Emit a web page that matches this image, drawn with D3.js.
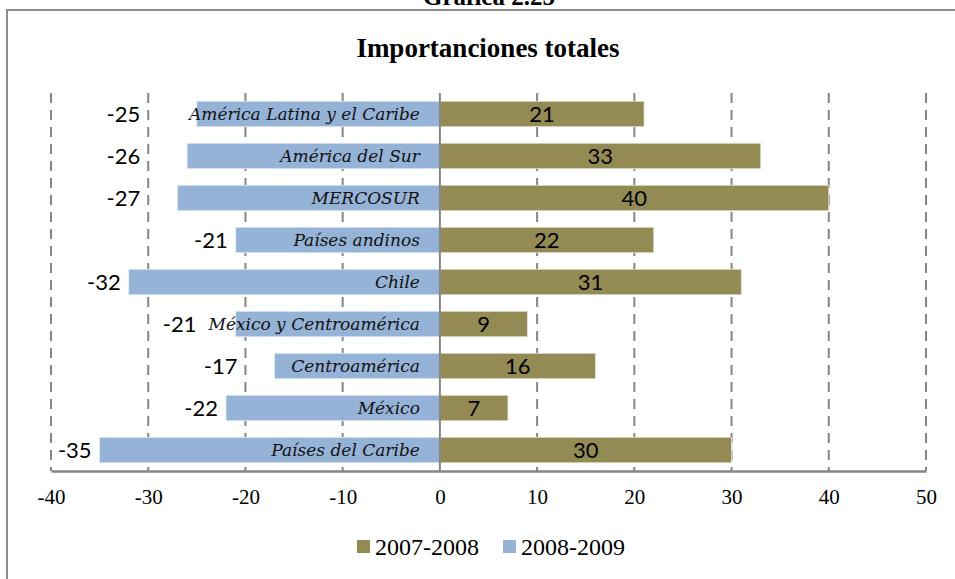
<!DOCTYPE html>
<html>
<head>
<meta charset="utf-8">
<script src="https://cdn.jsdelivr.net/npm/d3@7"></script>
<style>
  html, body { margin: 0; padding: 0; background: #fff; }
  svg { display: block; }
</style>
</head>
<body>
<svg id="chart" width="955" height="579"></svg>
<script>
// Import growth by region (%), two periods
const categories = [
  "América Latina y el Caribe",
  "América del Sur",
  "MERCOSUR",
  "Países andinos",
  "Chile",
  "México  y Centroamérica",
  "Centroamérica",
  "México",
  "Países del Caribe"
];
const series2007 = [21, 33, 40, 22, 31, 9, 16, 7, 30];
const series2009 = [-25, -26, -27, -21, -32, -21, -17, -22, -35];
const seriesNames = ["2007-2008", "2008-2009"];
const xTicks = [-40, -30, -20, -10, 0, 10, 20, 30, 40, 50];

const colOlive = "#948a54";
const colBlue = "#95b3d7";
const gridCol = "#868686";
const serif = "'Liberation Serif', 'Times New Roman', serif";

const svg = d3.select("#chart");

// outer frame
svg.append("rect")
  .attr("x", 7).attr("y", 10)
  .attr("width", 960).attr("height", 600)
  .attr("fill", "none").attr("stroke", "#8c8c8c").attr("stroke-width", 2);

// heading above the frame (partly cut by the page edge)
svg.append("text")
  .attr("x", 489).attr("y", 5)
  .attr("text-anchor", "middle")
  .attr("font-family", serif)
  .attr("font-weight", "bold").attr("font-size", 25)
  .text("Gráfica 2.25");

svg.append("text")
  .attr("x", 488).attr("y", 57)
  .attr("text-anchor", "middle")
  .attr("font-family", serif)
  .attr("font-weight", "bold").attr("font-size", 27)
  .text("Importanciones totales");

const x = d3.scaleLinear().domain([-40, 50]).range([51, 926]);
const y = d3.scaleBand().domain(categories).range([93, 471]).paddingInner(0.393).paddingOuter(0.196);

// dashed vertical gridlines
svg.append("g").selectAll("line")
  .data(xTicks.filter(d => d !== 0))
  .join("line")
  .attr("x1", d => x(d)).attr("x2", d => x(d))
  .attr("y1", 93).attr("y2", 471)
  .attr("stroke", gridCol).attr("stroke-width", 2)
  .attr("stroke-dasharray", "10,7");

const rows = categories.map((c, i) => ({ cat: c, pos: series2007[i], neg: series2009[i] }));

// positive bars (2007-2008)
svg.append("g").selectAll("rect")
  .data(rows).join("rect")
  .attr("x", x(0))
  .attr("y", d => y(d.cat))
  .attr("width", d => x(d.pos) - x(0))
  .attr("height", y.bandwidth())
  .attr("fill", colOlive)
  .attr("stroke", "#e6e4da").attr("stroke-width", 0.8);

// negative bars (2008-2009)
svg.append("g").selectAll("rect")
  .data(rows).join("rect")
  .attr("x", d => x(d.neg))
  .attr("y", d => y(d.cat))
  .attr("width", d => x(0) - x(d.neg))
  .attr("height", y.bandwidth())
  .attr("fill", colBlue)
  .attr("stroke", "#e4ebf4").attr("stroke-width", 0.8);

// zero line
svg.append("line")
  .attr("x1", x(0)).attr("x2", x(0))
  .attr("y1", 93).attr("y2", 471)
  .attr("stroke", gridCol).attr("stroke-width", 2);

// bottom axis
const axis = d3.axisBottom(x).tickValues(xTicks).tickSize(0).tickPadding(18)
  .tickFormat(d3.format("d"));
const gAxis = svg.append("g").attr("transform", "translate(0,471)").call(axis);
gAxis.select(".domain").attr("stroke", gridCol).attr("stroke-width", 2.5);
gAxis.selectAll("text")
  .attr("font-family", serif)
  .attr("font-size", 21).attr("fill", "#000")
  .text(d => d < 0 ? "-" + Math.abs(d) : d);

// category labels inside the negative bars
const catLabels = svg.append("g").selectAll("text")
  .data(rows).join("text")
  .attr("x", x(0) - 20)
  .attr("y", d => y(d.cat) + y.bandwidth() / 2)
  .attr("dy", "0.36em")
  .attr("text-anchor", "end")
  .attr("font-family", "'DejaVu Serif', serif")
  .attr("font-style", "italic")
  .attr("font-size", 17)
  .attr("fill", "#111")
  .text(d => d.cat);

const labelFont = "Lato, 'Open Sans', sans-serif";

// value labels for positive bars, centred
svg.append("g").selectAll("text")
  .data(rows).join("text")
  .attr("x", d => (x(0) + x(d.pos)) / 2)
  .attr("y", d => y(d.cat) + y.bandwidth() / 2)
  .attr("dy", "0.38em")
  .attr("text-anchor", "middle")
  .attr("font-family", labelFont).attr("font-size", 22)
  .attr("fill", "#000")
  .text(d => d.pos);

// value labels for negative bars: left of the bar (or of its category text),
// nudged further left so they never sit on a gridline
const textStart = [];
catLabels.each(function (d, i) { textStart[i] = (x(0) - 20) - this.getComputedTextLength(); });
const gridXs = xTicks.filter(d => d < 0).map(d => x(d));
svg.append("g").selectAll("text")
  .data(rows).join("text")
  .attr("y", d => y(d.cat) + y.bandwidth() / 2)
  .attr("dy", "0.38em")
  .attr("text-anchor", "end")
  .attr("font-family", labelFont).attr("font-size", 22)
  .attr("fill", "#000")
  .text(d => "-" + Math.abs(d.neg))
  .each(function (d, i) {
    const w = this.getComputedTextLength();
    let right = Math.min(x(d.neg) - 8, textStart[i] - 12);
    const hit = gridXs.find(g => g > right - w - 2 && g < right + 2);
    if (hit !== undefined) right = hit - 8;
    d3.select(this).attr("x", right);
  });

// legend
const legend = svg.append("g").attr("transform", "translate(357,547)");
const legendItems = [
  { name: seriesNames[0], color: colOlive, dx: 0 },
  { name: seriesNames[1], color: colBlue, dx: 146 }
];
legendItems.forEach(it => {
  legend.append("rect").attr("x", it.dx).attr("y", -7).attr("width", 13).attr("height", 13)
    .attr("fill", it.color);
  legend.append("text").attr("x", it.dx + 18).attr("y", 0).attr("dy", "0.35em")
    .attr("font-family", serif)
    .attr("font-size", 24).attr("fill", "#000")
    .text(it.name);
});
</script>
</body>
</html>
